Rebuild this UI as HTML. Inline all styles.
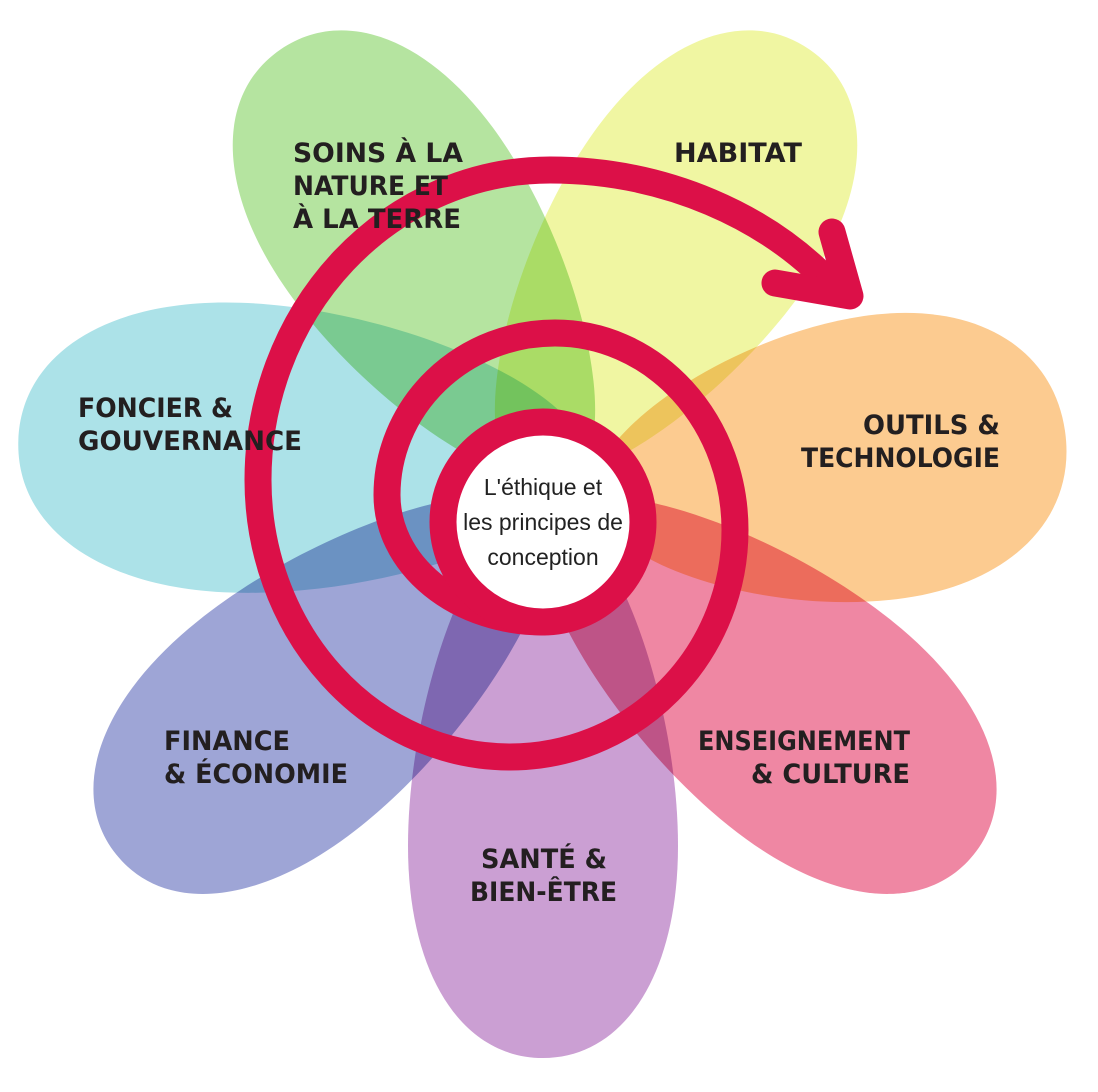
<!DOCTYPE html>
<html><head><meta charset="utf-8"><style>
html,body{margin:0;padding:0;background:#fff}
svg{display:block}
.l{font-family:"DejaVu Sans","Liberation Sans",sans-serif;font-weight:bold;font-size:27px;fill:#231f20}
.c{font-family:"Liberation Sans",sans-serif;font-size:23px;fill:#222}
.p{mix-blend-mode:multiply}
</style></head><body>
<svg width="1098" height="1092" viewBox="0 0 1098 1092" xmlns="http://www.w3.org/2000/svg">
<defs>
<path id="egg" d="M0 0 C0.02 -0.25 0.35 -0.5 0.62 -0.5 C0.85 -0.5 1 -0.3 1 0 C1 0.3 0.85 0.5 0.62 0.5 C0.35 0.5 0.02 0.25 0 0Z"/>
</defs>
<g>
<use href="#egg" class="p" fill="#b5e4a0" transform="translate(575 478) rotate(-124.5) scale(520 262)"/>
<use href="#egg" class="p" fill="#f0f6a2" transform="translate(515 478) rotate(-55.5) scale(520 262)"/>
<use href="#egg" class="p" fill="#ace2e8" transform="translate(590 460) rotate(182) scale(572 290)"/>
<use href="#egg" class="p" fill="#fccb90" transform="translate(590 500) rotate(-8.3) scale(480 285)"/>
<use href="#egg" class="p" fill="#9ea5d6" transform="translate(545 510) rotate(141.2) scale(550 262)"/>
<use href="#egg" class="p" fill="#ef87a3" transform="translate(545 510) rotate(38.8) scale(550 262)"/>
<use href="#egg" class="p" fill="#cb9fd3" transform="translate(543 500) rotate(90) scale(558 270)"/>
</g>
<g fill="none" stroke="#dc1048" stroke-width="27" stroke-linecap="round" stroke-linejoin="round">
<path d="M838 292 A362 310 0 0 0 550 170 A292 310 0 0 0 258 480 A252 277 0 0 0 510 757 A225 227 0 0 0 735 530 A180 197 0 0 0 555 333 A168 162 0 0 0 387 495 A156 127 0 0 0 543 622"/>
<path d="M775 283 L850 296 L832 232"/>
</g>
<circle cx="543" cy="522" r="100" fill="#fff" stroke="#dc1048" stroke-width="27"/>
<text class="c" x="543" y="495" text-anchor="middle">L'éthique et</text>
<text class="c" x="543" y="530" text-anchor="middle">les principes de</text>
<text class="c" x="543" y="565" text-anchor="middle">conception</text>
<text class="l" x="293" y="162" textLength="170" lengthAdjust="spacingAndGlyphs">SOINS À LA</text>
<text class="l" x="293" y="195" textLength="155" lengthAdjust="spacingAndGlyphs">NATURE ET</text>
<text class="l" x="293" y="228" textLength="168" lengthAdjust="spacingAndGlyphs">À LA TERRE</text>
<text class="l" x="674" y="162" textLength="128" lengthAdjust="spacingAndGlyphs">HABITAT</text>
<text class="l" x="78" y="417" textLength="155" lengthAdjust="spacingAndGlyphs">FONCIER &amp;</text>
<text class="l" x="78" y="450" textLength="224" lengthAdjust="spacingAndGlyphs">GOUVERNANCE</text>
<text class="l" x="863" y="434" textLength="137" lengthAdjust="spacingAndGlyphs">OUTILS &amp;</text>
<text class="l" x="801" y="467" textLength="199" lengthAdjust="spacingAndGlyphs">TECHNOLOGIE</text>
<text class="l" x="164" y="750" textLength="126" lengthAdjust="spacingAndGlyphs">FINANCE</text>
<text class="l" x="164" y="783" textLength="184" lengthAdjust="spacingAndGlyphs">&amp; ÉCONOMIE</text>
<text class="l" x="698" y="750" textLength="212" lengthAdjust="spacingAndGlyphs">ENSEIGNEMENT</text>
<text class="l" x="751" y="783" textLength="159" lengthAdjust="spacingAndGlyphs">&amp; CULTURE</text>
<text class="l" x="481" y="868" textLength="126" lengthAdjust="spacingAndGlyphs">SANTÉ &amp;</text>
<text class="l" x="470" y="901" textLength="147" lengthAdjust="spacingAndGlyphs">BIEN-ÊTRE</text>
</svg>
</body></html>
